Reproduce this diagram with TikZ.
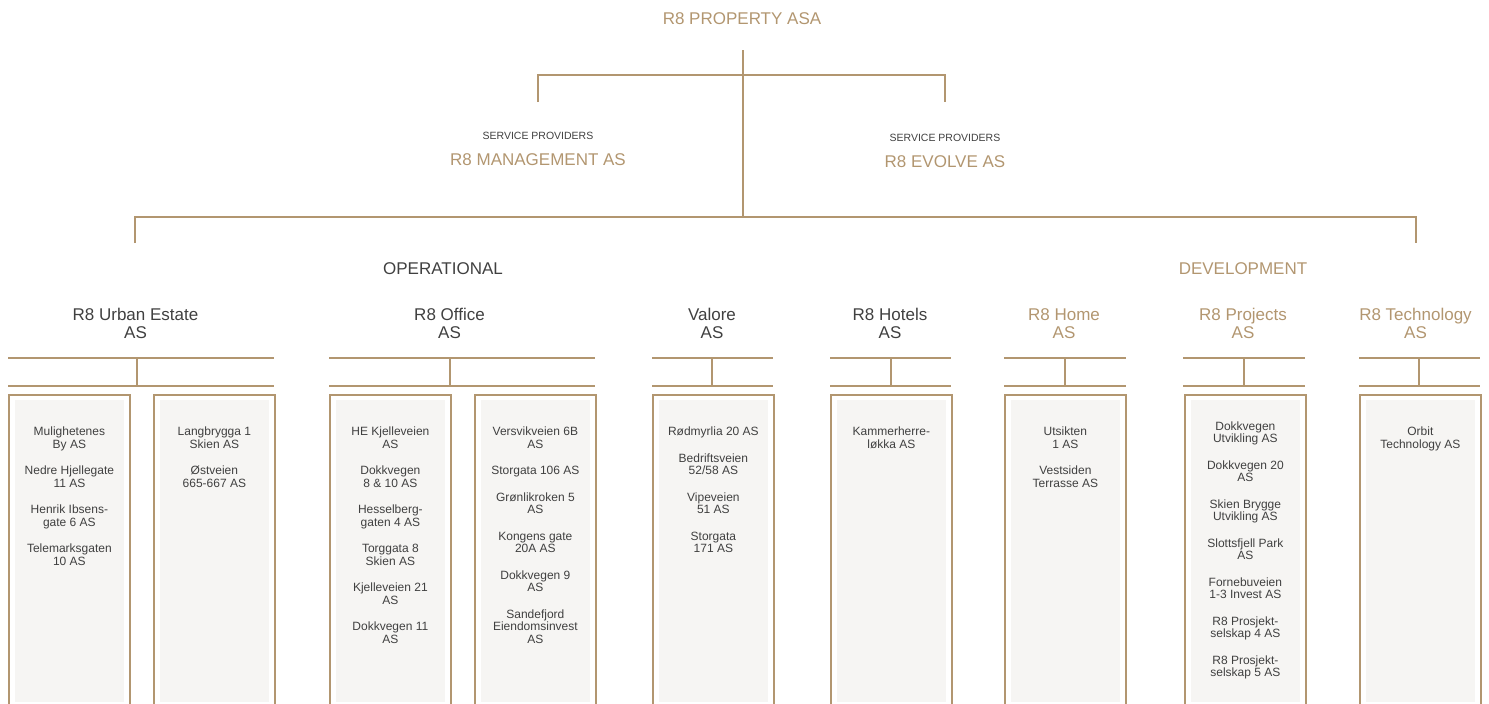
\documentclass[tikz,border=0pt]{standalone}
\usepackage{fontspec}
\setmainfont{Liberation Sans}
\usetikzlibrary{calc}
\definecolor{gold}{RGB}{178,150,112}
\definecolor{ink}{RGB}{64,64,64}
\definecolor{panel}{RGB}{246,245,243}
\newcommand{\stk}[1]{\begin{tabular}[t]{@{}c@{}}#1\end{tabular}}
\begin{document}
\begin{tikzpicture}[x=1pt,y=-1pt,
  tree/.style={draw=gold, line width=1.5pt},
  boxst/.style={draw=gold, line width=1.8pt, inner sep=0pt, minimum width=121pt, minimum height=318pt, anchor=north west},
  txt/.style={inner sep=0pt, anchor=base},
  big/.style={txt, font=\fontsize{17}{18}\selectfont},
  tiny/.style={txt, font=\fontsize{10.5}{12}\selectfont, text=ink},
  entry/.style={txt, font=\fontsize{12}{12.5}\selectfont, text=ink},
  goldtxt/.style={text=gold},
  darktxt/.style={text=ink}]
\useasboundingbox (0,0) rectangle (1489,704);
\clip (0,0) rectangle (1489,704);

% top level
\node[big, goldtxt] (top) at (742,24) {R8 PROPERTY ASA};
\node[tiny] (sp1) at (538,139) {SERVICE PROVIDERS};
\node[big, goldtxt] (mgmt) at (538,165) {R8 MANAGEMENT AS};
\node[tiny] (sp2) at (945,141) {SERVICE PROVIDERS};
\node[big, goldtxt] (evolve) at (945,167) {R8 EVOLVE AS};
\node[big, darktxt] (oper) at (443,274) {OPERATIONAL};
\node[big, goldtxt] (devel) at (1243,274) {DEVELOPMENT};

\coordinate (root) at (743,50);
\coordinate (j2) at (743,217);
\coordinate (sl) at (538,75);
\coordinate (sle) at (538,102);
\coordinate (sr) at (945,75);
\coordinate (sre) at (945,102);
\coordinate (bl) at (135,217);
\coordinate (ble) at (135,243);
\coordinate (br) at (1416,217);
\coordinate (bre) at (1416,243);
\draw[tree] (root) -- (j2);
\draw[tree] (sle) -- (sl) -- (sr) -- (sre);
\draw[tree] (ble) -- (bl) -- (br) -- (bre);

% company headings
\node[big, darktxt] (hue) at (135.5,320) {\stk{R8 Urban Estate\\AS}};
\node[big, darktxt] (hof) at (449.5,320) {\stk{R8 Office\\AS}};
\node[big, darktxt] (hva) at (712,320) {\stk{Valore\\AS}};
\node[big, darktxt] (hho) at (890,320) {\stk{R8 Hotels\\AS}};
\node[big, goldtxt] (hhm) at (1064,320) {\stk{R8 Home\\AS}};
\node[big, goldtxt] (hpr) at (1243,320) {\stk{R8 Projects\\AS}};
\node[big, goldtxt] (hte) at (1415.5,320) {\stk{R8 Technology\\AS}};

% double rails under headings
\foreach \n/\l/\r/\v in {ue/8/274/137, of/329/595/450, va/652/773/712, ho/830/951/891, hm/1004/1126/1065, pr/1183/1305/1244, te/1359/1480/1419} {
  \coordinate (\n-tl) at (\l,358);
  \coordinate (\n-tr) at (\r,358);
  \coordinate (\n-bl) at (\l,386);
  \coordinate (\n-br) at (\r,386);
  \coordinate (\n-vt) at (\v,358);
  \coordinate (\n-vb) at (\v,386);
  \draw[tree] (\n-tl) -- (\n-tr);
  \draw[tree] (\n-bl) -- (\n-br);
  \draw[tree] (\n-vt) -- (\n-vb);
}

% boxes
\foreach \n/\l in {ue1/8, ue2/153, of1/329, of2/474, va1/652, ho1/830, hm1/1004, pr1/1184, te1/1359} {
  \node[boxst] (\n) at (\l,394) {};
  \fill[panel] ($(\n.north west)+(7,6)$) rectangle ($(\n.south east)+(-7,-12)$);
}

% entries
\node[entry] (t-ue1) at (ue1.north |- 0,435.5) {\stk{Mulighetenes\\By AS\\[14pt]Nedre Hjellegate\\11 AS\\[14pt]Henrik Ibsens-\\gate 6 AS\\[14pt]Telemarksgaten\\10 AS}};
\node[entry] (t-ue2) at (ue2.north |- 0,435.5) {\stk{Langbrygga 1\\Skien AS\\[14pt]Østveien\\665-667 AS}};
\node[entry] (t-of1) at (of1.north |- 0,435.5) {\stk{HE Kjelleveien\\AS\\[14pt]Dokkvegen\\8 \& 10 AS\\[14pt]Hesselberg-\\gaten 4 AS\\[14pt]Torggata 8\\Skien AS\\[14pt]Kjelleveien 21\\AS\\[14pt]Dokkvegen 11\\AS}};
\node[entry] (t-of2) at (of2.north |- 0,435.5) {\stk{Versvikveien 6B\\AS\\[14pt]Storgata 106 AS\\[14pt]Grønlikroken 5\\AS\\[14pt]Kongens gate\\20A AS\\[14pt]Dokkvegen 9\\AS\\[14pt]Sandefjord\\Eiendomsinvest\\AS}};
\node[entry] (t-va1) at (va1.north |- 0,435.5) {\stk{Rødmyrlia 20 AS\\[14pt]Bedriftsveien\\52/58 AS\\[14pt]Vipeveien\\51 AS\\[14pt]Storgata\\171 AS}};
\node[entry] (t-ho1) at (ho1.north |- 0,435.5) {\stk{Kammerherre-\\løkka AS}};
\node[entry] (t-hm1) at (hm1.north |- 0,435.5) {\stk{Utsikten\\1 AS\\[14pt]Vestsiden\\Terrasse AS}};
\node[entry] (t-pr1) at (pr1.north |- 0,430) {\stk{Dokkvegen\\Utvikling AS\\[14pt]Dokkvegen 20\\AS\\[14pt]Skien Brygge\\Utvikling AS\\[14pt]Slottsfjell Park\\AS\\[14pt]Fornebuveien\\1-3 Invest AS\\[14pt]R8 Prosjekt-\\selskap 4 AS\\[14pt]R8 Prosjekt-\\selskap 5 AS}};
\node[entry] (t-te1) at (te1.north |- 0,435.5) {\stk{Orbit\\Technology AS}};
\end{tikzpicture}
\end{document}
